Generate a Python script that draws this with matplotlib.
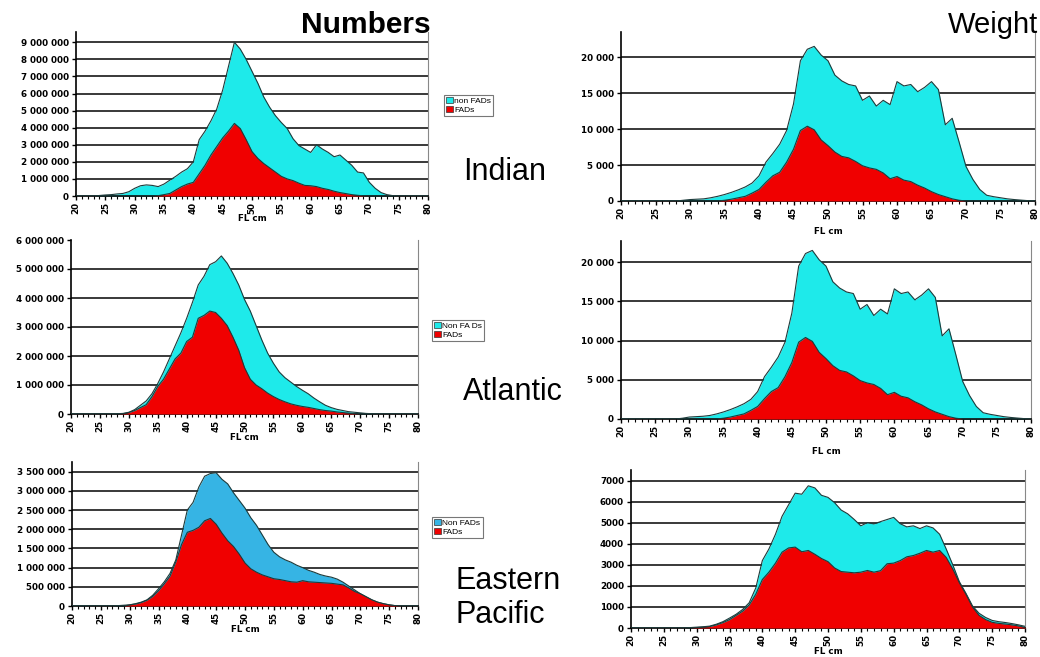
import matplotlib
matplotlib.use("Agg")
import matplotlib.pyplot as plt
from matplotlib.patches import Patch
import numpy as np

# ---------------- data (fork length, 1 cm bins) ----------------
fl_cm = list(range(20, 81))
x_tick_labels = [str(v) for v in range(20, 81, 5)]

# Indian Ocean - numbers (millions): top of stack (FADs + non FADs) and FADs
ind_num_total = [0, 0, 0, 0, 0.03, 0.06, 0.08, 0.12, 0.15, 0.25, 0.45, 0.6, 0.65, 0.62, 0.55, 0.7,
                 0.93, 1.15, 1.4, 1.6, 2.0, 3.3, 3.8, 4.4, 5.1, 6.2, 7.6, 9.0, 8.6, 8.0, 7.3, 6.6,
                 5.8, 5.2, 4.7, 4.3, 3.95, 3.35, 2.95, 2.75, 2.55, 3.0, 2.75, 2.55, 2.3, 2.4, 2.1,
                 1.8, 1.4, 1.35, 0.8, 0.45, 0.2, 0.08, 0.02, 0, 0, 0, 0, 0, 0]
ind_num_fads = [0, 0, 0, 0, 0, 0, 0, 0, 0, 0, 0, 0, 0, 0, 0.02, 0.08, 0.15, 0.35, 0.55, 0.7, 0.8,
                1.3, 1.8, 2.4, 2.9, 3.4, 3.8, 4.25, 3.95, 3.3, 2.6, 2.2, 1.9, 1.65, 1.4, 1.15, 1.0,
                0.9, 0.75, 0.62, 0.6, 0.55, 0.45, 0.38, 0.28, 0.2, 0.14, 0.08, 0.04, 0.01, 0, 0, 0,
                0, 0, 0, 0, 0, 0, 0, 0]

# Indian Ocean - weight (thousand t)
ind_wt_total = [0, 0, 0, 0, 0, 0, 0, 0, 0, 0.1, 0.2, 0.25, 0.3, 0.45, 0.65, 0.9, 1.2, 1.55, 1.95,
                2.5, 3.5, 5.4, 6.6, 7.9, 9.8, 13.5, 19.5, 21.1, 21.5, 20.3, 19.5, 17.5, 16.7, 16.2,
                16.0, 14.0, 14.6, 13.2, 14.0, 13.4, 16.6, 16.0, 16.2, 15.2, 15.8, 16.6, 15.5, 10.6,
                11.5, 8.2, 4.8, 3.0, 1.6, 0.8, 0.6, 0.45, 0.3, 0.2, 0.12, 0.05, 0]
ind_wt_fads = [0, 0, 0, 0, 0, 0, 0, 0, 0, 0, 0, 0, 0, 0, 0, 0.1, 0.25, 0.45, 0.65, 1.1, 1.6, 2.6,
               3.5, 4.0, 5.4, 7.2, 9.8, 10.4, 9.9, 8.5, 7.7, 6.8, 6.2, 6.0, 5.5, 4.9, 4.6, 4.4, 3.9,
               3.1, 3.4, 2.9, 2.7, 2.2, 1.8, 1.3, 0.9, 0.6, 0.3, 0.1, 0, 0, 0, 0, 0, 0, 0, 0, 0, 0, 0]

# Atlantic Ocean - numbers (millions)
atl_num_total = [0, 0, 0, 0, 0, 0, 0, 0, 0.01, 0.02, 0.06, 0.15, 0.3, 0.45, 0.7, 1.05, 1.45, 1.9,
                 2.35, 2.8, 3.3, 3.85, 4.45, 4.75, 5.15, 5.25, 5.45, 5.2, 4.85, 4.45, 3.95, 3.55,
                 3.05, 2.55, 2.1, 1.75, 1.45, 1.25, 1.1, 0.95, 0.82, 0.7, 0.55, 0.42, 0.3, 0.22,
                 0.16, 0.12, 0.08, 0.06, 0.04, 0.02, 0.01, 0, 0, 0, 0, 0, 0, 0, 0]
atl_num_fads = [0, 0, 0, 0, 0, 0, 0, 0, 0, 0.01, 0.05, 0.12, 0.22, 0.32, 0.6, 0.95, 1.2, 1.55, 1.9,
                2.1, 2.5, 2.65, 3.3, 3.4, 3.55, 3.5, 3.3, 3.05, 2.65, 2.2, 1.6, 1.2, 1.0, 0.87, 0.72,
                0.6, 0.5, 0.42, 0.35, 0.3, 0.26, 0.23, 0.19, 0.15, 0.12, 0.1, 0.07, 0.05, 0.03, 0.01,
                0, 0, 0, 0, 0, 0, 0, 0, 0, 0, 0]

# Atlantic Ocean - weight (thousand t)
atl_wt_total = [0, 0, 0, 0, 0, 0, 0, 0, 0, 0.1, 0.25, 0.3, 0.35, 0.45, 0.65, 0.9, 1.2, 1.55, 1.95,
                2.5, 3.5, 5.4, 6.6, 7.9, 9.8, 13.5, 19.5, 21.1, 21.5, 20.3, 19.5, 17.5, 16.7, 16.2,
                16.0, 14.0, 14.6, 13.2, 14.0, 13.4, 16.6, 16.0, 16.2, 15.2, 15.8, 16.6, 15.5, 10.6,
                11.5, 8.2, 4.8, 3.0, 1.6, 0.8, 0.6, 0.45, 0.3, 0.2, 0.12, 0.05, 0]
atl_wt_fads = [0, 0, 0, 0, 0, 0, 0, 0, 0, 0, 0, 0, 0, 0, 0, 0.1, 0.25, 0.45, 0.65, 1.1, 1.6, 2.6,
               3.5, 4.0, 5.4, 7.2, 9.8, 10.4, 9.9, 8.5, 7.7, 6.8, 6.2, 6.0, 5.5, 4.9, 4.6, 4.4, 3.9,
               3.1, 3.4, 2.9, 2.7, 2.2, 1.8, 1.3, 0.9, 0.6, 0.3, 0.1, 0, 0, 0, 0, 0, 0, 0, 0, 0, 0, 0]

# Eastern Pacific Ocean - numbers (millions)
ep_num_total = [0, 0, 0.01, 0, 0, 0, 0, 0, 0.01, 0.02, 0.03, 0.06, 0.1, 0.16, 0.28, 0.45, 0.63,
                0.85, 1.2, 1.85, 2.5, 2.7, 3.1, 3.38, 3.45, 3.47, 3.3, 3.18, 2.95, 2.75, 2.55, 2.3,
                2.1, 1.85, 1.6, 1.4, 1.28, 1.2, 1.14, 1.06, 1.0, 0.93, 0.88, 0.82, 0.78, 0.75, 0.7,
                0.62, 0.52, 0.42, 0.32, 0.24, 0.16, 0.1, 0.06, 0.03, 0.01, 0, 0, 0, 0]
ep_num_fads = [0, 0, 0, 0, 0, 0, 0, 0, 0, 0, 0.03, 0.05, 0.09, 0.15, 0.25, 0.4, 0.58, 0.78, 1.15,
               1.6, 1.92, 1.97, 2.05, 2.22, 2.28, 2.13, 1.9, 1.7, 1.55, 1.35, 1.12, 0.97, 0.88,
               0.81, 0.76, 0.71, 0.69, 0.66, 0.63, 0.62, 0.66, 0.63, 0.62, 0.61, 0.6, 0.59, 0.57,
               0.55, 0.47, 0.38, 0.32, 0.24, 0.16, 0.1, 0.06, 0.03, 0.01, 0, 0, 0, 0]

# Eastern Pacific Ocean - weight (thousand t)
ep_wt_total = [0, 0, 0, 0, 0, 0, 0, 0, 0, 0.02, 0.04, 0.06, 0.09, 0.18, 0.3, 0.47, 0.65, 0.88, 1.2,
               1.9, 3.2, 3.75, 4.45, 5.3, 5.85, 6.4, 6.35, 6.75, 6.65, 6.3, 6.2, 5.95, 5.6, 5.42,
               5.15, 4.85, 5.0, 4.94, 5.05, 5.15, 5.25, 4.95, 4.8, 4.85, 4.72, 4.85, 4.75, 4.45,
               3.75, 3.0, 2.2, 1.65, 1.05, 0.7, 0.5, 0.36, 0.3, 0.26, 0.21, 0.15, 0.08]
ep_wt_fads = [0, 0, 0, 0, 0, 0, 0, 0, 0, 0, 0.02, 0.04, 0.07, 0.15, 0.26, 0.4, 0.6, 0.8, 1.1, 1.6,
              2.3, 2.65, 3.08, 3.6, 3.8, 3.84, 3.62, 3.68, 3.5, 3.3, 3.15, 2.85, 2.68, 2.65, 2.62,
              2.65, 2.73, 2.65, 2.72, 3.05, 3.08, 3.2, 3.38, 3.44, 3.55, 3.68, 3.6, 3.68, 3.35, 2.8,
              2.15, 1.6, 1.0, 0.6, 0.4, 0.27, 0.22, 0.19, 0.15, 0.1, 0.03]

legend_labels_top = ["non FADs", "FADs"]
legend_labels_mid = ["Non FA Ds", "FADs"]
legend_labels_bot = ["Non FADs", "FADs"]
regions = ["Indian", "Atlantic", "Eastern\nPacific"]

CYAN = "#1EEAEA"
BLUE = "#36B4E4"
RED = "#F00000"
EDGE = "#1d3b3b"

W, H = 1040, 657
fig = plt.figure(figsize=(W / 100, H / 100), dpi=100)
plt.rcParams["font.family"] = ["Liberation Sans", "DejaVu Sans"]
TICKFONT = "DejaVu Sans"


def add_axes(x0, y0, x1, y1):
    return fig.add_axes([x0 / W, 1 - y1 / H, (x1 - x0) / W, (y1 - y0) / H])


def fmt_space(v):
    return "{:,}".format(int(round(v))).replace(",", " ")


def panel(box, total, fads, scale, ymax, yticks, ylabels, top_color, xlabel_y):
    ax = add_axes(*box)
    x = np.array(fl_cm)
    t = np.array(total) * scale
    f = np.array(fads) * scale
    ax.fill_between(x, 0, t, color=top_color, lw=0, zorder=2)
    ax.plot(x, t, color=EDGE, lw=0.8, zorder=3)
    ax.fill_between(x, 0, f, color=RED, lw=0, zorder=4)
    ax.plot(x, f, color=EDGE, lw=0.8, zorder=5)
    ax.set_xlim(20, 80)
    ax.set_ylim(0, ymax)
    for v in yticks:
        if 0 < v < ymax * 0.999:
            ax.axhline(v, color="#2a2a2a", lw=1.3, zorder=1)
    ax.set_yticks(yticks)
    ax.set_yticklabels(ylabels, fontsize=6.3, fontweight="bold", family=TICKFONT)
    ax.set_xticks(list(range(20, 81, 5)))
    ax.set_xticklabels(x_tick_labels, rotation=90, fontsize=6.3, fontweight="bold", family=TICKFONT)
    ax.set_xticks(fl_cm, minor=True)
    ax.tick_params(axis="x", which="major", length=3, width=1, pad=1.5)
    ax.tick_params(axis="x", which="minor", length=2, width=0.8)
    ax.tick_params(axis="y", length=3, width=1, pad=2)
    ax.spines["top"].set_visible(False)
    ax.spines["right"].set_color("#888888")
    ax.spines["right"].set_linewidth(0.8)
    ax.spines["left"].set_linewidth(1.2)
    ax.spines["bottom"].set_linewidth(1.2)
    ax.set_facecolor("none")
    xc = (box[0] + box[2]) / 2
    fig.text(xc / W, 1 - xlabel_y / H, "FL cm", ha="center", va="center",
             fontsize=6.3, fontweight="bold", family=TICKFONT)
    return ax


num9 = list(range(0, 9000001, 1000000))
panel((76, 32, 428, 196), ind_num_total, ind_num_fads, 1e6, 9.6e6, num9,
      [fmt_space(v) for v in num9], CYAN, 219)

wt20 = list(range(0, 20001, 5000))
panel((621, 32, 1035, 201), ind_wt_total, ind_wt_fads, 1e3, 23500, wt20,
      [fmt_space(v) for v in wt20], CYAN, 232)

num6 = list(range(0, 6000001, 1000000))
panel((71, 240, 418, 414), atl_num_total, atl_num_fads, 1e6, 6.0e6, num6,
      [fmt_space(v) for v in num6], CYAN, 438)

panel((621, 241, 1031, 419), atl_wt_total, atl_wt_fads, 1e3, 22700, wt20,
      [fmt_space(v) for v in wt20], CYAN, 452)

num35 = list(range(0, 3500001, 500000))
panel((72, 462, 418, 606), ep_num_total, ep_num_fads, 1e6, 3.75e6, num35,
      [fmt_space(v) for v in num35], BLUE, 630)

wt7 = list(range(0, 7001, 1000))
panel((631, 470, 1025, 628), ep_wt_total, ep_wt_fads, 1e3, 7500, wt7,
      [str(v) for v in wt7], CYAN, 652)


# legends
def legend(labels, top_color, x0, y0):
    handles = [Patch(facecolor=top_color, edgecolor="#333333", lw=0.5),
               Patch(facecolor=RED, edgecolor="#333333", lw=0.5)]
    lg = fig.legend(handles, labels, loc="upper left", bbox_to_anchor=(x0 / W, 1 - y0 / H),
                    fontsize=6, frameon=True, fancybox=False, handlelength=0.8,
                    handleheight=0.8, handletextpad=0.2, borderpad=0.25, labelspacing=0.1,
                    borderaxespad=0)
    lg.get_frame().set_edgecolor("#555555")
    lg.get_frame().set_linewidth(0.8)


legend(legend_labels_top, CYAN, 444, 95)
legend(legend_labels_mid, CYAN, 432, 320)
legend(legend_labels_bot, BLUE, 432, 517)

# titles and region labels
fig.text(431 / W, 1 - 25 / H, "Numbers", ha="right", va="center", fontsize=21.5, fontweight="bold")
fig.text(1038 / W, 1 - 25 / H, "Weight", ha="right", va="center", fontsize=21)
fig.text(463 / W, 1 - 172 / H, regions[0], ha="left", va="center", fontsize=22)
fig.text(463 / W, 1 - 392 / H, regions[1], ha="left", va="center", fontsize=22)
fig.text(455 / W, 1 - 598 / H, regions[2], ha="left", va="center", fontsize=22,
         linespacing=1.2)

fig.savefig("out.png", dpi=100)
